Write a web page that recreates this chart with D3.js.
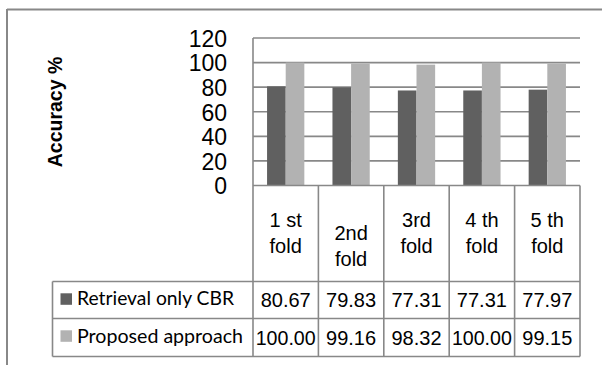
<!DOCTYPE html>
<html>
<head>
<meta charset="utf-8">
<script src="https://cdn.jsdelivr.net/npm/d3@7"></script>
<style>
  html, body { margin: 0; padding: 0; background: #fff; }
  svg { display: block; }
</style>
</head>
<body>
<svg id="chart" width="602" height="365"></svg>
<script>
// ---- data ----
const categories = ["1 st fold", "2nd fold", "3rd fold", "4 th fold", "5 th fold"];
const seriesNames = ["Retrieval only CBR", "Proposed approach"];
const retrievalOnly = [80.67, 79.83, 77.31, 77.31, 77.97];
const proposed = [100.00, 99.16, 98.32, 100.00, 99.15];
const yTicks = [0, 20, 40, 60, 80, 100, 120];
const yTitle = "Accuracy %";

(function () {
const seriesValues = [retrievalOnly, proposed];
const colors = ["#606060", "#b2b2b2"];
const gridColor = "#888888";
const arial = "'Liberation Sans', Arial, sans-serif";

const svg = d3.select("#chart");

// outer chart border (cropped: only left and top visible)
svg.append("line").attr("x1", 7).attr("y1", 9.5).attr("x2", 602).attr("y2", 9.5)
  .attr("stroke", gridColor).attr("stroke-width", 2);
svg.append("line").attr("x1", 7).attr("y1", 9).attr("x2", 7).attr("y2", 365)
  .attr("stroke", gridColor).attr("stroke-width", 2);

const pLeft = 253, pRight = 580, pTop = 38, zeroY = 185.5;
const x = d3.scaleBand().domain(categories).range([pLeft, pRight]).paddingInner(0.43).paddingOuter(0.215);
const xs = d3.scaleBand().domain(seriesNames).range([0, x.bandwidth()]).padding(0);
const y = d3.scaleLinear().domain([0, 120]).range([zeroY, pTop]);

// gridlines
svg.append("g").selectAll("line").data(yTicks.filter(d => d > 0)).join("line")
  .attr("x1", pLeft).attr("x2", pRight)
  .attr("y1", d => y(d)).attr("y2", d => y(d))
  .attr("stroke", gridColor).attr("stroke-width", 1.6);

// bars
const groups = svg.append("g").selectAll("g").data(categories).join("g")
  .attr("transform", d => `translate(${x(d)},0)`);
groups.selectAll("rect").data((c, i) => seriesNames.map((s, k) => ({ s, v: seriesValues[k][i], k })))
  .join("rect")
  .attr("x", d => xs(d.s))
  .attr("width", xs.bandwidth())
  .attr("y", d => y(d.v))
  .attr("height", d => zeroY - y(d.v))
  .attr("fill", d => colors[d.k]);

// left plot border
svg.append("line").attr("x1", pLeft).attr("x2", pLeft).attr("y1", pTop).attr("y2", 357)
  .attr("stroke", gridColor).attr("stroke-width", 1.6);

// y tick labels
const yAxis = d3.axisLeft(y).tickValues(yTicks).tickSize(0).tickPadding(0);
const ya = svg.append("g").attr("transform", "translate(227,0)").call(yAxis);
ya.select(".domain").remove();
ya.selectAll("text")
  .attr("font-family", arial)
  .attr("font-size", 23).attr("fill", "#000").attr("dy", "0.36em");

// y title
svg.append("text")
  .attr("transform", "translate(62,112) rotate(-90)")
  .attr("text-anchor", "middle")
  .attr("font-family", arial)
  .attr("font-weight", "bold").attr("font-size", 19.5).attr("fill", "#000")
  .text(yTitle);

// ---- data table ----
const legendLeft = 52.5;
const rowYs = [185.5, 281.5, 318.5, 356.5];
svg.append("line").attr("x1", pLeft).attr("x2", pRight).attr("y1", rowYs[0]).attr("y2", rowYs[0])
  .attr("stroke", gridColor).attr("stroke-width", 1.6);
[1, 2, 3].forEach(r => {
  svg.append("line").attr("x1", legendLeft).attr("x2", pRight).attr("y1", rowYs[r]).attr("y2", rowYs[r])
    .attr("stroke", gridColor).attr("stroke-width", 1.6);
});
const bounds = categories.map(c => x(c) - x.step() * x.paddingInner() / 2);
bounds.push(pRight);
bounds.forEach((bx, i) => {
  if (i === 0) return;
  svg.append("line").attr("x1", bx).attr("x2", bx).attr("y1", rowYs[0]).attr("y2", rowYs[3])
    .attr("stroke", gridColor).attr("stroke-width", 1.6);
});
svg.append("line").attr("x1", legendLeft).attr("x2", legendLeft).attr("y1", rowYs[1]).attr("y2", rowYs[3])
  .attr("stroke", gridColor).attr("stroke-width", 1.6);

// header labels (wrapped)
categories.forEach((c, i) => {
  const cx = x(c) + x.bandwidth() / 2;
  const parts = c.split(" fold");
  const lines = [parts[0], "fold"];
  const base = i === 1 ? 240 : 227.3;
  const t = svg.append("text").attr("text-anchor", "middle")
    .attr("font-family", arial)
    .attr("font-size", 20).attr("fill", "#000");
  lines.forEach((ln, j) => {
    t.append("tspan").attr("x", cx).attr("y", base + j * 26).text(ln);
  });
});

// legend rows + values
const valueBase = [307.3, 344.5];
const legendBase = [305, 342.5];
const swatchTop = [293.3, 330.3];
const legendWidths = [157, 166];
seriesNames.forEach((s, k) => {
  svg.append("rect").attr("x", 60.5).attr("y", swatchTop[k]).attr("width", 11.5).attr("height", 11.5)
    .attr("fill", colors[k]);
  svg.append("text").attr("x", 77).attr("y", legendBase[k])
    .attr("font-family", "Lato, 'Open Sans', sans-serif")
    .attr("font-size", 19).attr("fill", "#000")
    .attr("textLength", legendWidths[k]).attr("lengthAdjust", "spacingAndGlyphs")
    .text(s);
  categories.forEach((c, i) => {
    svg.append("text").attr("x", x(c) + x.bandwidth() / 2).attr("y", valueBase[k])
      .attr("text-anchor", "middle")
      .attr("font-family", arial)
      .attr("font-size", 20).attr("fill", "#000")
      .attr("textLength", seriesValues[k][i] >= 100 ? 60 : null)
      .attr("lengthAdjust", "spacingAndGlyphs")
      .text(seriesValues[k][i].toFixed(2));
  });
});
})();
</script>
</body>
</html>
